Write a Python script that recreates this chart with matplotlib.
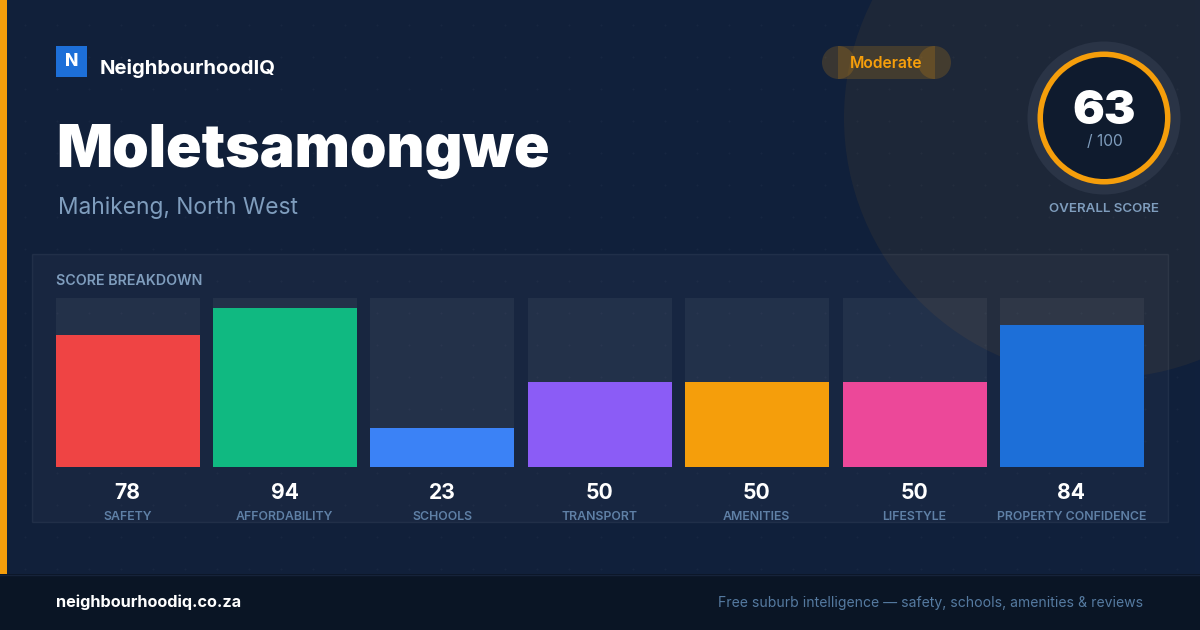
import numpy as np
import matplotlib
matplotlib.use("Agg")
import matplotlib.pyplot as plt
from matplotlib.colors import LinearSegmentedColormap
from matplotlib.patches import Circle, Rectangle

plt.rcParams["font.family"] = ["Inter", "DejaVu Sans"]

categories = ["SAFETY", "AFFORDABILITY", "SCHOOLS", "TRANSPORT", "AMENITIES", "LIFESTYLE", "PROPERTY CONFIDENCE"]
scores = [78, 94, 23, 50, 50, 50, 84]
bar_colors = ["#ef4444", "#10b981", "#3b82f6", "#8b5cf6", "#f59e0b", "#ec4899", "#1d6fd8"]
suburb = "Moletsamongwe"
place = "Mahikeng, North West"
overall = 63
rating = "Moderate"

AMBER = "#f59e0b"
W, H = 1200, 630

fig = plt.figure(figsize=(W / 100, H / 100), dpi=100)

# whole picture in pixel coordinates, y going down
bg = fig.add_axes([0, 0, 1, 1])
bg.axis("off")

# background gradient
grad = np.linspace(0, 1, 256).reshape(1, -1)
bg.imshow(grad, extent=[0, W, H, 0], aspect="auto", zorder=0,
          cmap=LinearSegmentedColormap.from_list("bg", ["#12213a", "#10203c"]))
bg.set_xlim(0, W)
bg.set_ylim(H, 0)

# dot grid
gx, gy = np.meshgrid(np.arange(25, W, 32), np.arange(25, H, 32))
bg.scatter(gx.ravel(), gy.ravel(), s=2.5, color="white", alpha=0.03, linewidths=0, zorder=1)

# big circle behind the gauge
bg.add_patch(Circle((1104, 118), 260, color=AMBER, alpha=0.06, lw=0, zorder=2))

# left stripe and footer
bg.add_patch(Rectangle((0, 0), 7, 574, color=AMBER, lw=0, zorder=3))
bg.add_patch(Rectangle((0, 574), W, 56, color="#0a1525", lw=0, zorder=3))
bg.plot([0, W], [574.5, 574.5], color="#16233a", lw=1, zorder=4)

# logo
bg.add_patch(Rectangle((56, 46), 31, 31, color="#1d6fd8", lw=0, zorder=3))
bg.text(71.5, 61.5, "N", color="white", fontsize=12.5, fontweight=800, ha="center", va="center", zorder=5)
bg.text(100, 69, "NeighbourhoodIQ", color="white", fontsize=14.6, fontweight="bold", ha="left", va="center", zorder=5)

# title
bg.text(56, 151.5, suburb, color="white", fontsize=42.3, fontweight=900, ha="left", va="center", zorder=5)
bg.text(58, 208, place, color="#7f9dbd", fontsize=16.4, ha="left", va="center", zorder=5)

# rating pill, drawn as a rectangle and two see-through end circles
pill = (245 / 255, 158 / 255, 11 / 255, 0.18)
bg.add_patch(Rectangle((838, 46), 97, 33, color=pill, lw=0, zorder=3))
bg.add_patch(Circle((838.5, 62.5), 16.5, color=pill, lw=0, zorder=3))
bg.add_patch(Circle((934.5, 62.5), 16.5, color=pill, lw=0, zorder=3))
bg.text(886.5, 63, rating, color=AMBER, fontsize=11.3, fontweight=600, ha="center", va="center", zorder=5)

# gauge
bg.add_patch(Circle((1104, 118), 76.5, color="#2a3446", lw=0, zorder=3))
bg.add_patch(Circle((1104, 118), 66.5, color=AMBER, lw=0, zorder=4))
bg.add_patch(Circle((1104, 118), 61, color="#0f1b2e", lw=0, zorder=4))
bg.text(1104, 112.5, str(overall), color="white", fontsize=34, fontweight=900, ha="center", va="center", zorder=5)
bg.text(1104.5, 142, "/ 100", color="#7f9dbd", fontsize=11.2, ha="center", va="center", zorder=5)
bg.text(1104, 208.5, "OVERALL SCORE", color="#7f9dbd", fontsize=9.6, fontweight=600, ha="center", va="center", zorder=5)

# breakdown panel
bg.add_patch(Rectangle((32, 254), 1136, 268, facecolor=(1, 1, 1, 0.03), edgecolor=(1, 1, 1, 0.06), lw=1, zorder=3))
bg.text(56, 280.7, "SCORE BREAKDOWN", color="#7f9dbd", fontsize=10.25, fontweight=600, ha="left", va="center", zorder=5)

# bars sit in their own axes with a 0-100 scale
step = 157.4
bar_w = 144
ax = fig.add_axes([55.6 / W, 1 - 466.6 / H, (6 * step + bar_w) / W, 169 / H])
ax.patch.set_alpha(0)
ax.axis("off")
x = np.arange(len(scores))
width = bar_w / step
ax.set_xlim(-width / 2, len(scores) - 1 + width / 2)
ax.set_ylim(0, 100)
ax.bar(x, [100] * len(scores), width=width, color=(1, 1, 1, 0.05), lw=0)
ax.bar(x, scores, width=width, color=bar_colors, lw=0)

for i, (name, score) in enumerate(zip(categories, scores)):
    cx = 128 + i * 157.33
    bg.text(cx - 0.5, 493, str(score), color="white", fontsize=15.2, fontweight="bold", ha="center", va="center", zorder=5)
    bg.text(cx - 0.5, 517, name, color="#5f80a6", fontsize=8.9, fontweight=600, ha="center", va="center", zorder=5)

# footer text
bg.text(56, 602.5, "neighbourhoodiq.co.za", color="white", fontsize=11.7, fontweight="bold", ha="left", va="center", zorder=5)
bg.text(1143, 602.5, "Free suburb intelligence \u2014 safety, schools, amenities & reviews", color="#557aa0",
        fontsize=10.1, ha="right", va="center", zorder=5)

fig.savefig("out.png", dpi=100)
